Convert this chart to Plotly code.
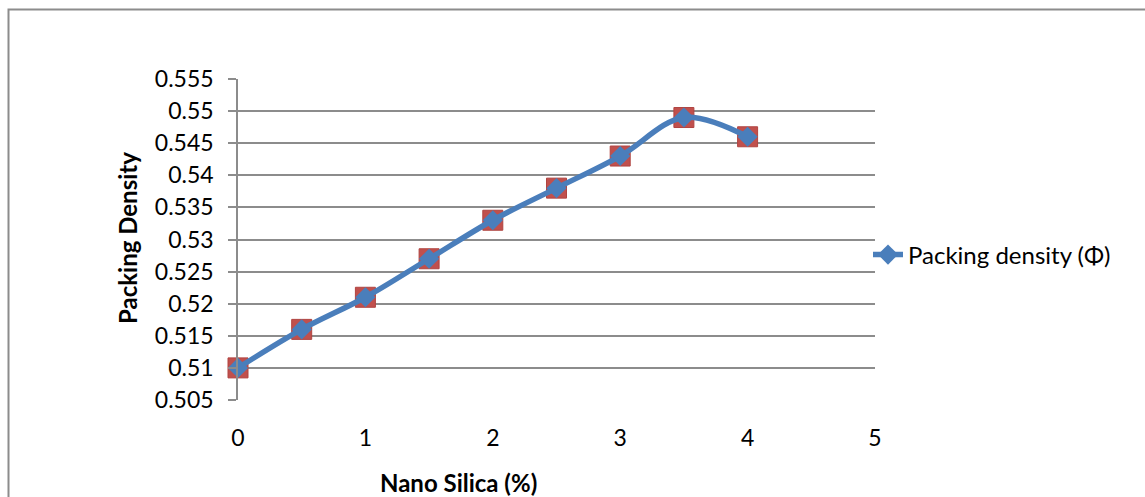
import plotly.graph_objects as go

nano_silica = [0, 0.5, 1, 1.5, 2, 2.5, 3, 3.5, 4]
packing_density = [0.510, 0.516, 0.521, 0.527, 0.533, 0.538, 0.543, 0.549, 0.546]
y_ticks = [0.505, 0.51, 0.515, 0.52, 0.525, 0.53, 0.535, 0.54, 0.545, 0.55, 0.555]
y_tick_labels = ["0.505", "0.51", "0.515", "0.52", "0.525", "0.53", "0.535", "0.54", "0.545", "0.55", "0.555"]
x_ticks = [0, 1, 2, 3, 4, 5]

W, H = 1145, 497
L, R, T, B = 238, 875, 79, 400

FONT = "Lato"

fig = go.Figure()
fig.add_trace(go.Scatter(
    x=nano_silica, y=packing_density, mode="markers", showlegend=False,
    marker=dict(symbol="square", size=20, color="#C0504D",
                line=dict(color="#B04440", width=1)),
    cliponaxis=False,
))
fig.add_trace(go.Scatter(
    x=nano_silica, y=packing_density, mode="lines+markers",
    name="Packing density (Φ)",
    line=dict(color="#4A7EBB", width=5.5, shape="spline", smoothing=1),
    marker=dict(symbol="diamond", size=15.5, color="#4A7EBB"),
    cliponaxis=False,
))

fig.update_layout(
    width=W, height=H,
    margin=dict(l=L, r=W - R, t=T, b=H - B),
    paper_bgcolor="white", plot_bgcolor="white",
    font=dict(family=FONT, size=23, color="black"),
    showlegend=True,
    legend=dict(x=(868 - L) / (R - L), y=1 - (255 - T) / (B - T), xanchor="left", yanchor="middle",
                font=dict(family=FONT, size=24, color="black"), bgcolor="rgba(0,0,0,0)",
                itemwidth=30),
    xaxis=dict(range=[0, 5], tickvals=x_ticks, showgrid=False, zeroline=False,
               showline=False, ticks="", ticklabelstandoff=22,
               tickfont=dict(family=FONT, size=23)),
    yaxis=dict(range=[0.505, 0.555], tickvals=y_ticks, ticktext=y_tick_labels,
               showgrid=True, gridcolor="#8C8C8C", gridwidth=1.5, zeroline=False,
               showline=True, linecolor="#8C8C8C", linewidth=1.5,
               ticks="outside", ticklen=8, tickcolor="#8C8C8C", tickwidth=1.5,
               ticklabelstandoff=10,
               tickfont=dict(family=FONT, size=23)),
    annotations=[
        dict(text="<b>Packing Density</b>", x=(128 - L) / (R - L), y=1 - (238 - T) / (B - T),
             xref="paper", yref="paper", textangle=-90, showarrow=False,
             font=dict(family=FONT, size=24, color="black"), xanchor="center", yanchor="middle"),
        dict(text="<b>Nano Silica (%)</b>", x=(458 - L) / (R - L), y=1 - (482 - T) / (B - T),
             xref="paper", yref="paper", showarrow=False,
             font=dict(family=FONT, size=24, color="black"), xanchor="center", yanchor="middle"),
    ],
    shapes=[
        dict(type="rect", xref="paper", yref="paper",
             x0=(8.5 - L) / (R - L), x1=(1160 - L) / (R - L),
             y0=1 - (520 - T) / (B - T), y1=1 - (9.5 - T) / (B - T),
             line=dict(color="#8C8C8C", width=2), layer="below"),
    ],
)

fig.write_html("out.html")
